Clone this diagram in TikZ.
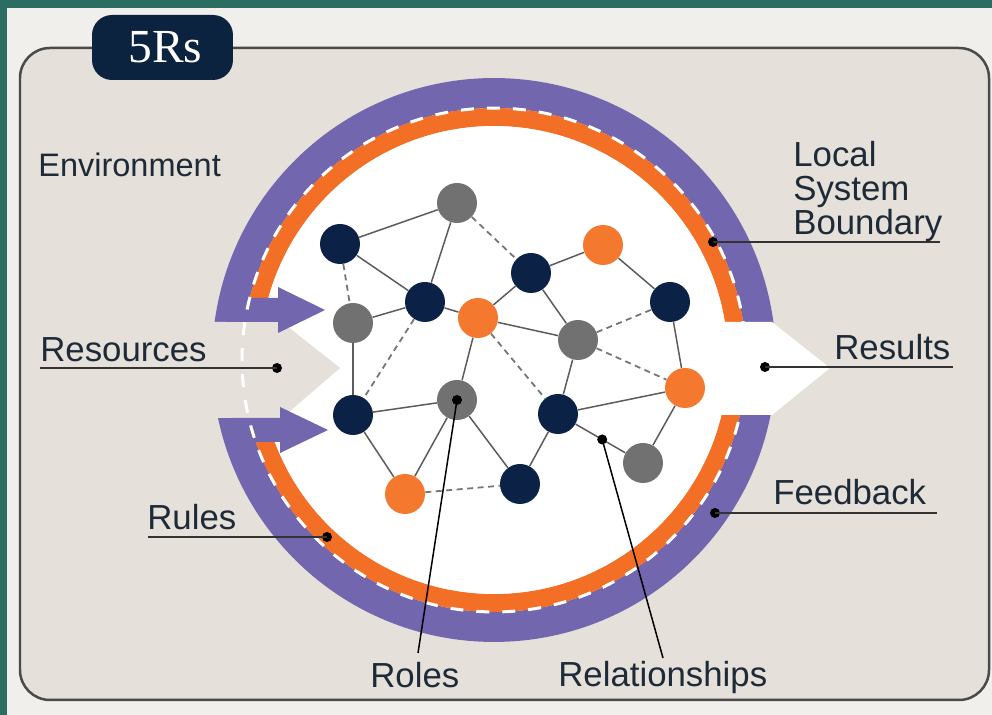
\documentclass[tikz,border=0pt]{standalone}
\usepackage{fontspec}
\setmainfont{Liberation Sans}
\newfontfamily\tabfont{Liberation Serif}
\usetikzlibrary{calc}
\definecolor{frameteal}{HTML}{2B6D61}
\definecolor{outerbg}{HTML}{F0EFEC}
\definecolor{envbeige}{HTML}{E5E0D9}
\definecolor{boxline}{HTML}{4A4A4A}
\definecolor{tabnavy}{HTML}{0C2340}
\definecolor{ringpurple}{HTML}{7267AE}
\definecolor{ringorange}{HTML}{F36F25}
\definecolor{ballnavy}{HTML}{0B2145}
\definecolor{ballgrey}{HTML}{717171}
\definecolor{ballorange}{HTML}{F5782F}
\definecolor{linkgrey}{HTML}{5C5C5C}
\definecolor{labeltext}{HTML}{1E2A38}
\definecolor{leadergrey}{HTML}{333333}

\tikzset{
    ball/.style={circle, minimum size=0.8cm, inner sep=0pt},
    navyball/.style={ball, fill=ballnavy},
    greyball/.style={ball, fill=ballgrey},
    orangeball/.style={ball, fill=ballorange},
    link/.style={draw=linkgrey, line width=0.03cm},
    weaklink/.style={draw=linkgrey!85, line width=0.035cm, dash pattern=on 0.12cm off 0.09cm},
    lbl/.style={anchor=base west, inner sep=0pt, text=labeltext, font=\fontsize{19.8}{19.35}\selectfont},
    leaderdot/.style={circle, fill=black, minimum size=0.2cm, inner sep=0pt},
    leader/.style={draw=leadergrey, line width=0.04cm},
    thinleader/.style={draw=black, line width=0.03cm},
}

\begin{document}
\begin{tikzpicture}[x=0.02cm, y=-0.02cm]
  \useasboundingbox (0,0) rectangle (992,715);
  \fill[outerbg] (0,0) rectangle (992,715);
  \fill[frameteal] (0,0) rectangle (992,8);
  \fill[frameteal] (0,0) rectangle (7,715);

  % Environment box and tab
  \filldraw[draw=boxline, fill=envbeige, line width=0.05cm, rounded corners=0.6cm] (20,48) rectangle (989,700);
  \node[fill=tabnavy, rounded corners=0.4cm, minimum width=2.82cm, minimum height=1.3cm, text=white, font=\tabfont\fontsize{27}{27}\selectfont] (tab) at (162.5,47.5) {\hspace{0.12cm}5Rs};

  % Boundary rings
  \draw[ringpurple, line width=0.6cm] (494,360) circle [radius=5.34cm];
  \draw[ringorange, line width=0.36cm] (494,360) circle [radius=4.86cm];
  \fill[white] (494,360) circle [radius=4.68cm];

  % Resources in, Results out
  \fill[envbeige] (200,322) -- (282,322) -- (340,368) -- (282,418) -- (200,418) -- cycle;
  \fill[white] (700,322) -- (772,322) -- (830,368) -- (772,415) -- (700,415) -- cycle;

  % Rules arrows
  \fill[ringpurple] (226,298) -- (278,298) -- (278,287) -- (325,310) -- (278,333) -- (278,322) -- (226,322) -- cycle;
  \fill[ringpurple] (232,418) -- (280,418) -- (280,407) -- (328,430) -- (280,453) -- (280,442) -- (232,442) -- cycle;

  % Local system boundary
  \draw[white, line width=0.06cm, dash pattern=on 0.26cm off 0.26cm] (494,360) circle [radius=5.04cm];

  % Roles
  \node[greyball] (n1) at (457,203) {};
  \node[navyball] (n2) at (340,244) {};
  \node[navyball] (n3) at (425,302) {};
  \node[greyball] (n4) at (353,323) {};
  \node[orangeball] (n5) at (478,318) {};
  \node[navyball] (n6) at (531,273) {};
  \node[orangeball] (n7) at (603,245) {};
  \node[navyball] (n8) at (670,302) {};
  \node[greyball] (n9) at (578,340) {};
  \node[orangeball] (n10) at (685,388) {};
  \node[navyball] (n11) at (353,415) {};
  \node[greyball] (n12) at (457,400) {};
  \node[navyball] (n13) at (558,414) {};
  \node[greyball] (n14) at (643,463) {};
  \node[navyball] (n15) at (520,484) {};
  \node[orangeball] (n16) at (405,494) {};

  % Relationships
  \draw[link] (n2) -- (n1);
  \draw[link] (n2) -- (n3);
  \draw[link] (n1) -- (n3);
  \draw[link] (n4) -- (n3);
  \draw[link] (n3) -- (n5);
  \draw[link] (n4) -- (n11);
  \draw[link] (n5) -- (n6);
  \draw[link] (n5) -- (n9);
  \draw[link] (n5) -- (n12);
  \draw[link] (n6) -- (n7);
  \draw[link] (n6) -- (n9);
  \draw[link] (n7) -- (n8);
  \draw[link] (n8) -- (n10);
  \draw[link] (n9) -- (n13);
  \draw[link] (n13) -- (n10);
  \draw[link] (n11) -- (n12);
  \draw[link] (n11) -- (n16);
  \draw[link] (n12) -- (n16);
  \draw[link] (n12) -- (n15);
  \draw[link] (n13) -- (n15);
  \draw[link] (n13) -- (n14);
  \draw[link] (n10) -- (n14);
  % weak ones
  \draw[weaklink] (n2) -- (n4);
  \draw[weaklink] (n1) -- (n6);
  \draw[weaklink] (n3) -- (n11);
  \draw[weaklink] (n5) -- (n13);
  \draw[weaklink] (n9) -- (n8);
  \draw[weaklink] (n9) -- (n10);
  \draw[weaklink] (n16) -- (n15);

  % Labeling
  \node[lbl, font=\fontsize{18.5}{18.5}\selectfont] (environment) at (38,177) {Environment};
  \node[lbl, align=left] (boundary) at (793,235) {Local\\System\\Boundary};
  \node[lbl] (results) at (834,360) {Results};
  \node[lbl] (resources) at (40,362) {Resources};
  \node[lbl] (rules) at (147,530) {Rules};
  \node[lbl] (feedback) at (773,505) {Feedback};
  \node[lbl] (roles) at (370,688) {Roles};
  \node[lbl] (relationships) at (558,687) {Relationships};

  % Leaders
  \node[leaderdot] (boundarydot) at (713,242) {};
  \node[leaderdot] (resultsdot) at (765,367) {};
  \node[leaderdot] (resourcesdot) at (277,368) {};
  \node[leaderdot] (rulesdot) at (327,537) {};
  \node[leaderdot] (feedbackdot) at (715,513) {};
  \node[leaderdot] (rolesdot) at (n12) {};
  \node[leaderdot] (relationshipsdot) at ($(n13)!0.52!(n14)$) {};
  \coordinate (boundaryend) at (940,242);
  \coordinate (resultsend) at (953,367);
  \coordinate (resourcesend) at (40,368);
  \coordinate (rulesend) at (148,537);
  \coordinate (feedbackend) at (937,513);
  \coordinate (rolesend) at (418,653);
  \coordinate (relationshipsend) at (663,658);
  \draw[leader] (boundarydot.center) -- (boundaryend);
  \draw[leader] (resultsdot.center) -- (resultsend);
  \draw[leader] (resourcesdot.center) -- (resourcesend);
  \draw[leader] (rulesdot.center) -- (rulesend);
  \draw[leader] (feedbackdot.center) -- (feedbackend);
  \draw[thinleader] (rolesdot.center) -- (rolesend);
  \draw[thinleader] (relationshipsdot.center) -- (relationshipsend);

\end{tikzpicture}
\end{document}
